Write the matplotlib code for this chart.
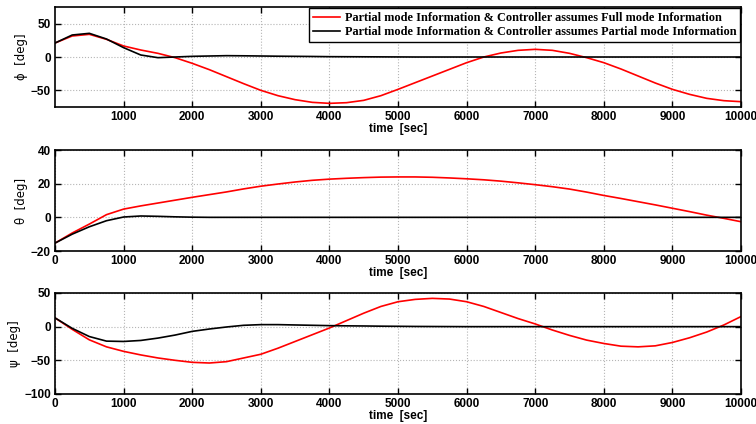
"""Attitude angles: full vs partial mode information."""

import numpy as np
import matplotlib
matplotlib.use('Agg')

import matplotlib.pyplot as plt


# time axis, sampled every 250 sec
time_sec = np.arange(0, 10001, 250)

# phi [deg]
phi_full = [21, 31.5, 34, 26.5, 16.5, 10.5, 5.5, -1, -9.5, -19, -29.5, -40, -50,
            -58, -64, -68, -69.5, -68.5, -65, -58, -48.5, -38.5, -28.5, -18.5, -8.5,
            0, 6, 10, 11.5, 10, 5.5, -1, -8.5, -18, -28.5, -39, -48.5, -56, -62,
            -65.5, -67]
phi_partial = [21, 33, 35.5, 27, 14, 3, -1, 0, 1, 1.5, 2, 1.8, 1.5, 1.2, 1, 0.8,
               0.5, 0.4, 0.3, 0.2, 0.1] + [0] * 20

# theta [deg]
theta_full = [-15.3, -9.3, -4, 1.6, 4.9, 6.8, 8.5, 10.2, 11.9, 13.5, 15.1, 16.9,
              18.5, 19.8, 21, 22, 22.7, 23.2, 23.6, 23.9, 24, 24, 23.8, 23.4, 22.9,
              22.3, 21.5, 20.5, 19.4, 18.2, 16.8, 15, 13, 11.2, 9.3, 7.4, 5.4, 3.4,
              1.3, -0.6, -2.6]
theta_partial = [-15.3, -10, -5.6, -2, 0.2, 0.8, 0.6, 0.3, 0.1] + [0] * 32

# psi [deg]
psi_full = [13, -4, -19.6, -30, -36.7, -42, -46.5, -50, -53, -54, -52, -46.5, -41,
            -32, -22, -12, -2, 9, 20, 30, 37, 40.5, 42, 41, 37, 30, 21, 12, 4, -5,
            -13, -20, -25, -29, -30, -28.5, -23.5, -16.5, -8, 2.5, 15]
psi_partial = [13, -2.5, -14.7, -21.5, -22, -20.5, -17, -12.5, -7, -3.5, -0.5, 2,
               3, 3, 2.5, 2, 1.5, 1.2, 1, 0.7, 0.5, 0.3, 0.2, 0.1] + [0] * 17

legend_labels = ['Partial mode Information & Controller assumes Full mode Information',
                 'Partial mode Information & Controller assumes Partial mode Information']

panels = [
    (phi_full, phi_partial, '\u03d5  [deg]', (-75, 75), [-50, 0, 50],
     np.arange(1000, 10001, 1000), [0.0728, 0.7476, 0.9074, 0.2359]),
    (theta_full, theta_partial, '\u03b8  [deg]', (-20, 40), [-20, 0, 20, 40],
     np.arange(0, 10001, 1000), [0.0728, 0.4080, 0.9074, 0.2382]),
    (psi_full, psi_partial, '\u03c8  [deg]', (-100, 50), [-100, -50, 0, 50],
     np.arange(0, 10001, 1000), [0.0728, 0.0708, 0.9074, 0.2382]),
]

plt.rcParams['font.family'] = ['Liberation Sans', 'DejaVu Sans']

fig = plt.figure(figsize=(7.56, 4.24), dpi=100)

for i, (full, partial, ylab, ylim, yticks, xticks, pos) in enumerate(panels):
    ax = fig.add_axes(pos)
    ax.plot(time_sec, full, color='red', linewidth=1.2, label=legend_labels[0])
    ax.plot(time_sec, partial, color='black', linewidth=1.2, label=legend_labels[1])
    ax.set_xlim(0, 10000)
    ax.set_ylim(*ylim)
    ax.set_xticks(xticks)
    ax.set_yticks(yticks)
    ax.grid(True, linestyle=':', color='#b5b5b5', linewidth=0.8)
    ax.tick_params(direction='in', top=True, right=True, length=4, width=1.0,
                   labelsize=8.5, pad=3)
    for lbl in ax.get_xticklabels() + ax.get_yticklabels():
        lbl.set_fontweight('bold')
    for sp in ax.spines.values():
        sp.set_linewidth(1.2)
    ax.set_xlabel('time  [sec]', fontsize=8.5, fontweight='bold', labelpad=0)
    ax.set_ylabel(ylab, fontsize=8.5, family=['DejaVu Sans'], labelpad=2)

    if i == 0:
        leg = ax.legend(loc='upper right', frameon=True, fancybox=False,
                        borderaxespad=0.1, handlelength=2.2, handletextpad=0.4,
                        borderpad=0.3, labelspacing=0.2,
                        prop={'family': 'Liberation Serif', 'weight': 'bold', 'size': 8.8})
        leg.get_frame().set_edgecolor('black')
        leg.get_frame().set_linewidth(1.0)
        leg.get_frame().set_alpha(1.0)

fig.savefig('out.png', dpi=100)
plt.close()
